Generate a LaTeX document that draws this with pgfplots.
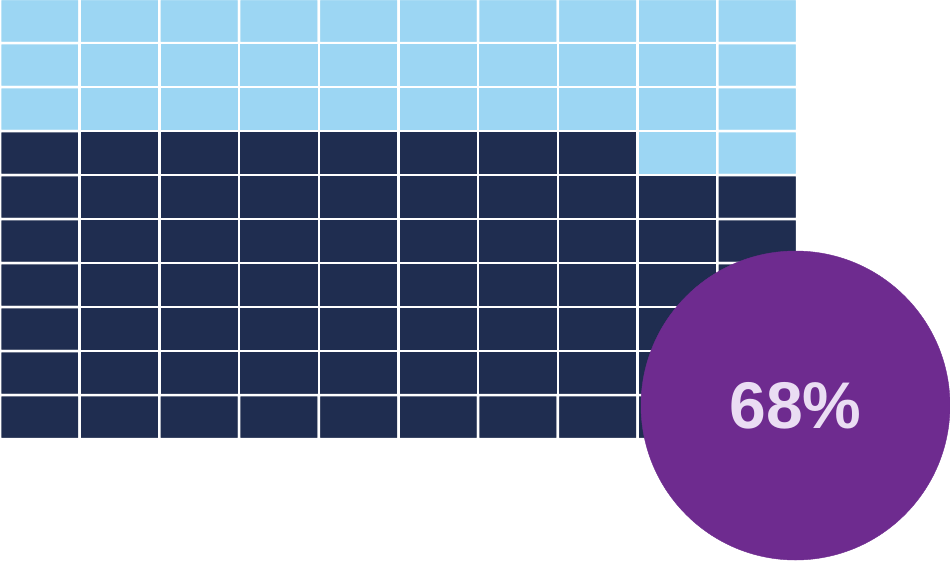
\documentclass[border=0pt]{standalone}
\usepackage{fontspec}
\setmainfont{Liberation Sans}
\usepackage{pgfplots}
\usepackage{pgfplotstable}
\pgfplotsset{compat=1.18}
\definecolor{navy}{RGB}{31,45,80}
\definecolor{sky}{RGB}{156,214,243}
\definecolor{purp}{RGB}{110,43,143}
\definecolor{lav}{RGB}{234,221,243}
% waffle cells: column, row (0 = top), value (1 = light, 0 = dark)
\pgfplotstableread{
c r v
0 0 1
1 0 1
2 0 1
3 0 1
4 0 1
5 0 1
6 0 1
7 0 1
8 0 1
9 0 1
0 1 1
1 1 1
2 1 1
3 1 1
4 1 1
5 1 1
6 1 1
7 1 1
8 1 1
9 1 1
0 2 1
1 2 1
2 2 1
3 2 1
4 2 1
5 2 1
6 2 1
7 2 1
8 2 1
9 2 1
0 3 0
1 3 0
2 3 0
3 3 0
4 3 0
5 3 0
6 3 0
7 3 0
8 3 1
9 3 1
0 4 0
1 4 0
2 4 0
3 4 0
4 4 0
5 4 0
6 4 0
7 4 0
8 4 0
9 4 0
0 5 0
1 5 0
2 5 0
3 5 0
4 5 0
5 5 0
6 5 0
7 5 0
8 5 0
9 5 0
0 6 0
1 6 0
2 6 0
3 6 0
4 6 0
5 6 0
6 6 0
7 6 0
8 6 0
9 6 0
0 7 0
1 7 0
2 7 0
3 7 0
4 7 0
5 7 0
6 7 0
7 7 0
8 7 0
9 7 0
0 8 0
1 8 0
2 8 0
3 8 0
4 8 0
5 8 0
6 8 0
7 8 0
8 8 0
9 8 0
0 9 0
1 9 0
2 9 0
3 9 0
4 9 0
5 9 0
6 9 0
7 9 0
8 9 0
9 9 0
}\waffle
\begin{document}
\begin{tikzpicture}
\begin{axis}[
  width=950bp, height=558bp, scale only axis,
  xmin=0, xmax=950, ymin=0, ymax=558,
  y dir=reverse, hide axis,
  colormap={waffle}{rgb255=(31,45,80) rgb255=(156,214,243)},
  point meta min=0, point meta max=1,
]
\addplot[matrix plot*, mesh/cols=10, point meta=explicit, draw=white, line width=2.5bp]
  table[x expr=\thisrow{c}*79.7+39.85, y expr=\thisrow{r}*44+21, meta=v] {\waffle};
\addplot[only marks, mark=*, mark size=154.5bp,
  mark options={draw=purp, fill=purp},
  nodes near coords={68\%},
  every node near coord/.append style={anchor=center, text=lav,
    font=\fontsize{66bp}{70bp}\selectfont\bfseries, yshift=0bp}]
  coordinates {(795.5,405.5)};
\end{axis}
\end{tikzpicture}
\end{document}
